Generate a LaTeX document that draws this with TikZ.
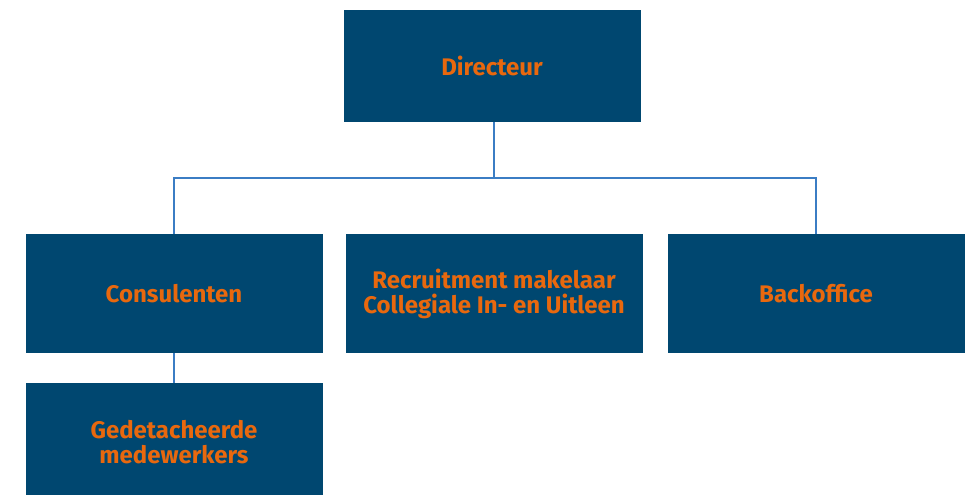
\documentclass[tikz,border=0pt]{standalone}
\usepackage{fontspec}
\setmainfont{Fira Sans}
\definecolor{boxblue}{RGB}{0,71,112}
\definecolor{txtorange}{RGB}{232,104,14}
\definecolor{lineblue}{RGB}{59,125,196}
\begin{document}
\begin{tikzpicture}[x=1pt,y=-1pt,
  orgbox/.style={fill=boxblue,draw=none,text=txtorange,font=\fontsize{24}{25}\selectfont\bfseries,
    minimum width=297pt,minimum height=119pt,align=center,inner sep=0pt},
  conn/.style={draw=lineblue,line width=2pt}]
\useasboundingbox (0,0) rectangle (980,495);
\begin{scope}
\clip (0,0) rectangle (980,495);
\node[orgbox,minimum height=112pt] (dir) at (492,66) {Directeur};
\node[orgbox] (con) at (174,293.5) {Consulenten};
\node[orgbox] (rec) at (494,293.5) {Recruitment makelaar\\Collegiale In- en Uitleen};
\node[orgbox] (back) at (816,293.5) {Backoffice};
\node[orgbox] (ged) at (174,442.5) {Gedetacheerde\\medewerkers};
\coordinate (jn) at (494,178);
\draw[conn] (dir.south -| jn) -- (jn);
\draw[conn] (con.north) |- (jn) -| (back.north);
\draw[conn] (con.south) -- (ged.north);
\end{scope}
\end{tikzpicture}
\end{document}
